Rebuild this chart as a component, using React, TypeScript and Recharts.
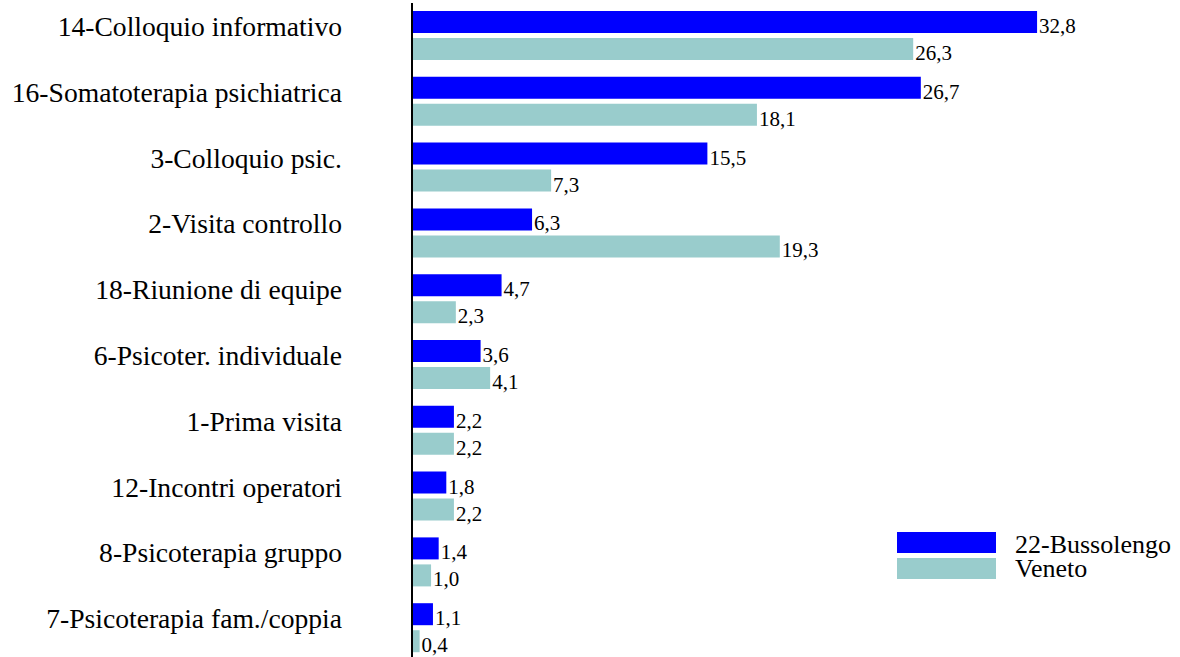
import { BarChart, Bar, XAxis, YAxis, LabelList } from "recharts";

// Activity share (%) by type of service
const categories = [
  "14-Colloquio informativo",
  "16-Somatoterapia psichiatrica",
  "3-Colloquio psic.",
  "2-Visita controllo",
  "18-Riunione di equipe",
  "6-Psicoter. individuale",
  "1-Prima visita",
  "12-Incontri operatori",
  "8-Psicoterapia gruppo",
  "7-Psicoterapia fam./coppia",
];
const bussolengo = [32.8, 26.7, 15.5, 6.3, 4.7, 3.6, 2.2, 1.8, 1.4, 1.1];
const veneto = [26.3, 18.1, 7.3, 19.3, 2.3, 4.1, 2.2, 2.2, 1.0, 0.4];
const seriesNames = ["22-Bussolengo", "Veneto"];

const BLUE = "#0000ff";
const TEAL = "#99cccc";
const FONT = "'Liberation Serif', 'Times New Roman', serif";

const chartData = categories.map((name, idx) => ({
  name,
  bussolengo: bussolengo[idx],
  veneto: veneto[idx],
}));

const fmt = (v: number) => v.toFixed(1).replace(".", ",");

const CategoryTick = (props: any) => {
  const { x, y, payload } = props;
  return (
    <text x={x} y={y} textAnchor="end" fontSize={27.6} style={{ fontFamily: FONT }} fill="#000">
      {payload.value}
    </text>
  );
};

const ValueLabel = (props: any) => {
  const { x, y, width, height, value } = props;
  return (
    <text x={x + width + 2} y={y + height} fontSize={21} style={{ fontFamily: FONT }} fill="#000">
      {fmt(value)}
    </text>
  );
};

// legend drawn as an overlay so it does not take space from the plot
const LegendBox = () => (
  <svg width={283} height={60} style={{ position: "absolute", left: 897, top: 524, overflow: "visible" }}>
    <rect x={0} y={8} width={99} height={21} fill={BLUE} />
    <rect x={0} y={34} width={99} height={21} fill={TEAL} />
    <text x={118} y={29} fontSize={26} style={{ fontFamily: FONT }} fill="#000">
      {seriesNames[0]}
    </text>
    <text x={118} y={53} fontSize={26} style={{ fontFamily: FONT }} fill="#000">
      {seriesNames[1]}
    </text>
  </svg>
);

export default function App() {
  return (
    <div style={{ position: "absolute", left: 0, top: 0, width: 1180, height: 657, overflow: "hidden", background: "#fff" }}>
      <BarChart
        width={1180}
        height={664}
        data={chartData}
        layout="vertical"
        margin={{ top: 3, right: 101, bottom: 3, left: 0 }}
        barSize={22}
        barGap={5}
      >
        <XAxis type="number" domain={[0, 35]} hide />
        <YAxis
          type="category"
          dataKey="name"
          width={412}
          axisLine={{ stroke: "#000", strokeWidth: 2 }}
          tickLine={false}
          tickSize={0}
          tickMargin={70}
          tick={<CategoryTick />}
          interval={0}
        />
        <Bar dataKey="bussolengo" name={seriesNames[0]} fill={BLUE} isAnimationActive={false}>
          <LabelList dataKey="bussolengo" content={<ValueLabel />} />
        </Bar>
        <Bar dataKey="veneto" name={seriesNames[1]} fill={TEAL} isAnimationActive={false}>
          <LabelList dataKey="veneto" content={<ValueLabel />} />
        </Bar>
      </BarChart>
      <LegendBox />
    </div>
  );
}
